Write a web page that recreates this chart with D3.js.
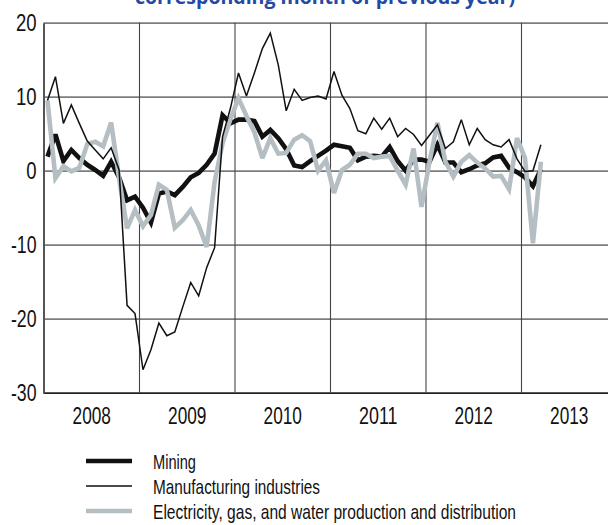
<!DOCTYPE html>
<html>
<head>
<meta charset="utf-8">
<script src="https://cdn.jsdelivr.net/npm/d3@7"></script>
<style>
  html, body { margin: 0; padding: 0; background: #fff; }
  svg { display: block; }
  text { font-family: "Liberation Sans", Arial, sans-serif; fill: #111; }
</style>
</head>
<body>
<svg id="chart" width="608" height="525"></svg>
<script>
// Year-on-year change (%), monthly from January 2008
const years = ["2008", "2009", "2010", "2011", "2012", "2013"];
const yTicks = [-30, -20, -10, 0, 10, 20];

const mining = [
  1.9, 4.9, 1.3, 2.8, 1.7, 0.8, 0.1, -0.7, 1.2, -0.9, -4.0, -3.5,
  -5.0, -7.0, -3.1, -2.8, -3.3, -2.2, -0.9, -0.3, 0.8, 2.3, 7.5, 6.4,
  6.9, 6.9, 6.7, 4.6, 5.5, 4.4, 2.9, 0.7, 0.5, 1.3, 2.0, 2.7,
  3.5, 3.3, 3.1, 1.4, 1.9, 2.0, 1.9, 3.2, 1.3, 0.0, 1.5, 1.5,
  1.2, 3.5, 1.1, 1.1, -0.2, 0.2, 0.7, 1.0, 1.8, 2.0, 0.4, -0.2,
  -0.9, -2.1, 0.2
];
const manufacturing = [
  9.5, 12.7, 6.4, 8.9, 6.4, 4.0, 2.8, 1.6, 3.1, 0.1, -18.2, -19.3,
  -26.9, -24.2, -20.6, -22.3, -21.8, -18.4, -15.1, -16.9, -13.1, -10.4, 4.6, 8.5,
  13.2, 10.1, 13.2, 16.5, 18.6, 14.3, 8.1, 11.0, 9.5, 9.9, 10.1, 9.7,
  13.4, 10.2, 8.4, 5.4, 5.0, 7.1, 5.6, 7.1, 4.6, 5.7, 4.9, 3.4,
  4.8, 6.2, 3.0, 3.9, 6.9, 3.5, 5.7, 4.2, 3.5, 3.2, 4.2, 1.6,
  -0.1, 0.0, 3.5
];
const electricity = [
  9.5, -1.0, 0.6, -0.1, 0.4, 3.6, 3.9, 3.3, 6.5, -1.0, -7.8, -5.3,
  -7.5, -6.0, -1.9, -2.6, -7.7, -6.7, -5.3, -7.4, -10.3, -1.5, 3.7, 7.0,
  9.8, 7.4, 5.2, 1.7, 4.4, 2.3, 2.4, 4.2, 4.8, 4.0, 0.0, 1.4,
  -3.0, 0.1, 0.8, 2.3, 2.3, 1.7, 1.9, 2.0, 0.0, -1.9, 3.0, -4.9,
  1.2, 6.5, 1.2, -0.8, 1.2, 2.1, 1.1, 0.3, -0.8, -0.7, -2.5, 4.4,
  1.7, -9.8, 1.2
];

const series = [
  { name: "Mining", values: mining, color: "#111", width: 4.6, labelW: 43 },
  { name: "Electricity, gas, and water production and distribution", values: electricity, color: "#b5bfc3", width: 4.6, labelW: 363 },
  { name: "Manufacturing industries", values: manufacturing, color: "#111", width: 1.5, labelW: 167 }
];
const legendOrder = [series[0], series[2], series[1]];

const svg = d3.select("#chart");
const plotLeft = 43.5, plotTop = 22.7, plotBottom = 392.7, plotRight = 608;
const monthW = 95.5 / 12;

// condensed look: squeeze glyphs to a fixed width per character
const narrow = (sel, perChar, minusW) => sel
  .attr("lengthAdjust", "spacingAndGlyphs")
  .attr("textLength", function () {
    const t = this.textContent;
    return t.replace("-", "").length * perChar + (t.includes("-") ? minusW : 0);
  });

// x in months from January 2008; each point sits at the middle of its month
const x = d3.scaleLinear().domain([0, 72]).range([plotLeft, plotLeft + 72 * monthW]);
const y = d3.scaleLinear().domain([-30, 20]).range([plotBottom, plotTop]);

// Title (the upper part falls outside the frame)
svg.append("text")
  .attr("x", 325).attr("y", 4)
  .attr("text-anchor", "middle")
  .attr("textLength", 380).attr("lengthAdjust", "spacingAndGlyphs")
  .style("font-family", "'Open Sans', 'DejaVu Sans', sans-serif")
  .style("font-weight", "bold").style("font-size", "19px")
  .style("fill", "#2449a3")
  .text("corresponding month of previous year)");

// Horizontal grid
const hGrid = svg.append("g").attr("transform", `translate(${plotLeft},0)`)
  .call(d3.axisLeft(y).tickValues(yTicks).tickSize(-(plotRight - plotLeft)).tickFormat(""));
hGrid.select(".domain").remove();
hGrid.selectAll(".tick line")
  .attr("stroke", d => d === -30 ? "#222" : "#7d7d7d")
  .attr("stroke-width", 1.8);

// Vertical year separators
const vGrid = svg.append("g").attr("transform", `translate(0,${plotBottom})`)
  .call(d3.axisBottom(x).tickValues(d3.range(12, 72, 12)).tickSize(-(plotBottom - plotTop)).tickFormat(""));
vGrid.select(".domain").remove();
vGrid.selectAll(".tick line").attr("stroke", "#444").attr("stroke-width", 1.1);

// Left axis with labels
const yAxis = svg.append("g").attr("transform", `translate(${plotLeft},0)`)
  .call(d3.axisLeft(y).tickValues(yTicks).tickSize(0).tickPadding(7).tickFormat(d => String(d)));
yAxis.select(".domain").attr("stroke", "#555").attr("stroke-width", 2);
yAxis.selectAll("text").style("font-size", "23px").attr("dy", "0.36em").call(narrow, 10.3, 5);

// Year labels centred in each year
const xAxis = svg.append("g").attr("transform", `translate(0,${plotBottom})`)
  .call(d3.axisBottom(x).tickValues(years.map((_, i) => i * 12 + 6)).tickSize(0).tickPadding(15)
    .tickFormat((d, i) => years[i]));
xAxis.select(".domain").remove();
xAxis.selectAll("text").style("font-size", "23px").call(narrow, 9.6, 5);

// Series lines
const line = d3.line().x((d, i) => x(i + 0.5)).y(d => y(d)).curve(d3.curveLinear);
svg.append("g").selectAll("path").data(series).join("path")
  .attr("d", s => line(s.values))
  .attr("fill", "none")
  .attr("stroke", s => s.color)
  .attr("stroke-width", s => s.width)
  .attr("stroke-linejoin", "miter")
  .attr("stroke-miterlimit", 3);

// Legend
const legend = svg.append("g").selectAll("g").data(legendOrder).join("g")
  .attr("transform", (d, i) => `translate(86,${461 + i * 25})`);
legend.append("line")
  .attr("x1", 0).attr("x2", 46).attr("y1", 0).attr("y2", 0)
  .attr("stroke", d => d.color).attr("stroke-width", d => d.width);
legend.append("text")
  .attr("x", 67).attr("y", 0).attr("dy", "0.36em")
  .style("font-size", "21px")
  .attr("lengthAdjust", "spacingAndGlyphs")
  .attr("textLength", d => d.labelW)
  .text(d => d.name);
</script>
</body>
</html>
